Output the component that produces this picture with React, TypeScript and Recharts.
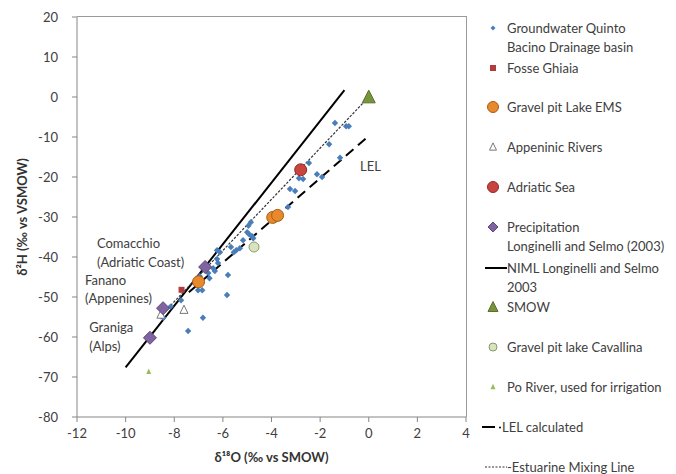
import React from 'react';
import { ScatterChart, Scatter, XAxis, YAxis, ReferenceLine, ReferenceDot } from 'recharts';

const groundwater = [
  { x: -1.39, y: -6.5 }, { x: -0.93, y: -7.3 }, { x: -0.82, y: -7.3 }, { x: -1.63, y: -11.8 },
  { x: -1.18, y: -15.2 }, { x: -2.46, y: -16.5 }, { x: -2.13, y: -19.3 }, { x: -1.92, y: -20.0 },
  { x: -2.87, y: -20.3 }, { x: -2.7, y: -20.5 }, { x: -3.24, y: -23.0 }, { x: -3.03, y: -23.5 },
  { x: -3.32, y: -27.5 }, { x: -4.85, y: -31.3 }, { x: -4.95, y: -32.2 }, { x: -5.0, y: -33.8 },
  { x: -4.92, y: -34.3 }, { x: -4.8, y: -34.8 }, { x: -4.75, y: -35.3 }, { x: -5.17, y: -35.8 },
  { x: -5.67, y: -37.5 }, { x: -5.45, y: -38.3 }, { x: -5.3, y: -37.8 }, { x: -5.55, y: -38.8 },
  { x: -6.24, y: -38.3 }, { x: -6.12, y: -38.8 }, { x: -6.24, y: -40.5 }, { x: -6.2, y: -41.5 },
  { x: -6.4, y: -42.8 }, { x: -6.33, y: -43.5 }, { x: -5.79, y: -44.5 }, { x: -6.6, y: -44.0 },
  { x: -6.55, y: -45.3 }, { x: -5.83, y: -49.5 }, { x: -7.02, y: -48.3 }, { x: -6.85, y: -48.3 },
  { x: -7.72, y: -50.8 }, { x: -8.15, y: -52.4 }, { x: -6.82, y: -55.2 }, { x: -7.43, y: -58.5 },
  { x: -8.55, y: -54.8 }, { x: -8.45, y: -55.2 }, { x: -6.95, y: -44.8 },
];
const fosseGhiaia = [{ x: -7.7, y: -48.2 }];
const gravelEMS = [{ x: -3.95, y: -30.1 }, { x: -3.75, y: -29.6 }, { x: -7.0, y: -46.2 }];
const appeninic = [{ x: -7.6, y: -53.2 }, { x: -8.55, y: -54.4 }];
const adriatic = [{ x: -2.8, y: -18.2 }];
const precipitation = [{ x: -6.73, y: -42.5 }, { x: -8.46, y: -52.8 }, { x: -9.0, y: -60.2 }];
const smow = [{ x: 0, y: 0 }];
const cavallina = [{ x: -4.72, y: -37.5 }];
const poRiver = [{ x: -9.05, y: -68.7 }];

const nimlLine = [{ x: -10, y: -67.6 }, { x: -1, y: 1.7 }];
const lelLine = [{ x: -7.4, y: -48.8 }, { x: 0, y: -9.75 }];
const mixingLine = [{ x: -8.6, y: -55 }, { x: 0, y: 0 }];

const xTicks = [-12, -10, -8, -6, -4, -2, 0, 2, 4];
const yTicks = [-80, -70, -60, -50, -40, -30, -20, -10, 0, 10, 20];

const annotations = [
  { x: -11.18, y: -36.5, text: 'Comacchio' },
  { x: -11.18, y: -41.25, text: '(Adriatic Coast)' },
  { x: -11.67, y: -45.75, text: 'Fanano' },
  { x: -11.67, y: -50.25, text: '(Appenines)' },
  { x: -11.5, y: -57.5, text: 'Graniga' },
  { x: -11.5, y: -62.25, text: '(Alps)' },
  { x: -0.36, y: -17.25, text: 'LEL' },
];

const legendLabels = [
  ['Groundwater Quinto', 'Bacino Drainage basin'],
  ['Fosse Ghiaia'],
  ['Gravel pit Lake EMS'],
  ['Appeninic Rivers'],
  ['Adriatic Sea'],
  ['Precipitation', 'Longinelli and Selmo (2003)'],
  ['NIML Longinelli and Selmo', '2003'],
  ['SMOW'],
  ['Gravel pit lake Cavallina'],
  ['Po River, used for irrigation'],
  ['LEL calculated'],
  ['Estuarine Mixing Line'],
];

const FONT = 'Lato, "Open Sans", sans-serif';
const TEXT = '#404040';

const diamond = (r: number, fill: string, stroke?: string) => (p: any) => (
  <polygon points={`${p.cx},${p.cy - r} ${p.cx + r},${p.cy} ${p.cx},${p.cy + r} ${p.cx - r},${p.cy}`} fill={fill} stroke={stroke || 'none'} strokeWidth={1} />
);
const square = (s: number, fill: string) => (p: any) => (
  <rect x={p.cx - s / 2} y={p.cy - s / 2} width={s} height={s} fill={fill} />
);
const circle = (r: number, fill: string, stroke: string) => (p: any) => (
  <circle cx={p.cx} cy={p.cy} r={r} fill={fill} stroke={stroke} strokeWidth={1} />
);
const triangle = (s: number, fill: string, stroke?: string) => (p: any) => {
  const h = s * 0.9;
  return (
    <polygon points={`${p.cx},${p.cy - h / 2 - 1} ${p.cx + s / 2},${p.cy + h / 2} ${p.cx - s / 2},${p.cy + h / 2}`} fill={fill} stroke={stroke || 'none'} strokeWidth={1} />
  );
};

const shapes = {
  gw: diamond(3.2, '#4a7ebb'),
  fosse: square(6, '#b23c3c'),
  ems: circle(6, '#e8892c', '#a55d1a'),
  app: triangle(8, '#ffffff', '#777777'),
  adr: circle(6, '#c9443f', '#8c2a27'),
  pre: diamond(6.5, '#8064a2', '#5c4776'),
  smow: triangle(13, '#77933c', '#5a702c'),
  cav: circle(5, '#d7e4bd', '#8a9a70'),
  po: triangle(5, '#9bbb59'),
};

const legendMarkers = [
  diamond(2.5, '#4a7ebb'),
  square(6, '#b23c3c'),
  circle(5.5, '#e8892c', '#a55d1a'),
  triangle(7, '#ffffff', '#777777'),
  circle(5.5, '#c9443f', '#8c2a27'),
  diamond(5, '#8064a2', '#5c4776'),
  null,
  triangle(10, '#77933c', '#5a702c'),
  circle(4, '#d7e4bd', '#8a9a70'),
  triangle(5, '#9bbb59'),
  null,
  null,
];
const legendTops = [28, 68, 107, 147, 187, 227, 268, 307, 347, 387, 427, 467];

const AnnotationShape = (text: string) => (p: any) => (
  <text x={p.cx} y={p.cy} dy="0.35em" fill={TEXT} fontSize={13} fontFamily={FONT}>{text}</text>
);

const YLabel = (props: any) => {
  const vb = props.viewBox;
  const cx = vb.x + 12;
  const cy = vb.y + vb.height / 2;
  return (
    <text x={cx} y={cy} transform={`rotate(-90 ${cx} ${cy})`} textAnchor="middle" dominantBaseline="central" fill="#333" fontSize={13} fontWeight="bold" fontFamily={FONT}>
      δ²H (‰ vs VSMOW)
    </text>
  );
};
const XLabel = (props: any) => {
  const vb = props.viewBox;
  const cx = vb.x + vb.width / 2;
  return (
    <text x={cx} y={457} textAnchor="middle" dominantBaseline="central" fill="#333" fontSize={13} fontWeight="bold" fontFamily={FONT}>
      δ¹⁸O (‰ vs SMOW)
    </text>
  );
};

function LegendBlock() {
  return (
    <div style={{ position: 'absolute', left: 0, top: 0, width: 676, height: 474, pointerEvents: 'none', fontFamily: FONT, fontSize: 13, color: TEXT }}>
      {legendLabels.map((lines, i) => {
        const top = legendTops[i];
        const M = legendMarkers[i];
        return (
          <div key={i}>
            <svg style={{ position: 'absolute', left: 480, top: top - 8 }} width={28} height={16}>
              {M ? M({ cx: 13, cy: 8 }) : null}
              {i === 6 && <line x1={5} y1={8} x2={27} y2={8} stroke="#000" strokeWidth={2} />}
              {i === 10 && (
                <g>
                  <line x1={2} y1={8} x2={15} y2={8} stroke="#000" strokeWidth={2} />
                  <circle cx={20} cy={8.5} r={1} fill="#000" />
                </g>
              )}
              {i === 11 && <line x1={5} y1={8} x2={27} y2={8} stroke="#333" strokeWidth={1} strokeDasharray="2 1.5" />}
            </svg>
            {lines.map((t, j) => (
              <div key={j} style={{ position: 'absolute', left: i === 10 ? 502 : 507, top: top - 9 + j * 18.5, lineHeight: '18px', whiteSpace: 'nowrap' }}>
                {i === 11 && j === 0 ? '-' + t : t}
              </div>
            ))}
          </div>
        );
      })}
    </div>
  );
}

export default function App() {
  return (
    <div style={{ position: 'absolute', left: 0, top: 0, width: 676, height: 474, background: '#fff' }}>
      <ScatterChart width={676} height={474} margin={{ top: 17, right: 210, bottom: 7, left: 10 }}>
        <XAxis type="number" dataKey="x" domain={[-12, 4]} ticks={xTicks} allowDataOverflow
          tickSize={5} tickMargin={7} height={50} stroke="#868686"
          tick={{ fill: TEXT, fontSize: 13, fontFamily: FONT }} label={<XLabel />} />
        <YAxis type="number" dataKey="y" domain={[-80, 20]} ticks={yTicks} allowDataOverflow
          tickSize={5} tickMargin={14} width={67} stroke="#868686"
          tick={{ fill: TEXT, fontSize: 13, fontFamily: FONT }} label={<YLabel />} />
        <ReferenceLine segment={nimlLine} stroke="#000" strokeWidth={2} />
        <ReferenceLine segment={lelLine} stroke="#000" strokeWidth={2} strokeDasharray="10 6" />
        <ReferenceLine segment={mixingLine} stroke="#333" strokeWidth={1.2} strokeDasharray="2.5 1.5" />
        <Scatter name="Groundwater Quinto Bacino Drainage basin" data={groundwater} shape={shapes.gw} isAnimationActive={false} />
        <Scatter name="Fosse Ghiaia" data={fosseGhiaia} shape={shapes.fosse} isAnimationActive={false} />
        <Scatter name="Gravel pit Lake EMS" data={gravelEMS} shape={shapes.ems} isAnimationActive={false} />
        <Scatter name="Appeninic Rivers" data={appeninic} shape={shapes.app} isAnimationActive={false} />
        <Scatter name="Adriatic Sea" data={adriatic} shape={shapes.adr} isAnimationActive={false} />
        <Scatter name="Precipitation" data={precipitation} shape={shapes.pre} isAnimationActive={false} />
        <Scatter name="SMOW" data={smow} shape={shapes.smow} isAnimationActive={false} />
        <Scatter name="Gravel pit lake Cavallina" data={cavallina} shape={shapes.cav} isAnimationActive={false} />
        <Scatter name="Po River" data={poRiver} shape={shapes.po} isAnimationActive={false} />
        {annotations.map((a, i) => (
          <ReferenceDot key={i} x={a.x} y={a.y} r={0} shape={AnnotationShape(a.text)} ifOverflow="visible" />
        ))}
      </ScatterChart>
      <div style={{ position: 'absolute', left: 77, top: 16, width: 390, height: 401, boxSizing: 'border-box', borderTop: '1px solid #9a9a9a', borderRight: '1px solid #9a9a9a', pointerEvents: 'none' }} />
      <LegendBlock />
    </div>
  );
}
